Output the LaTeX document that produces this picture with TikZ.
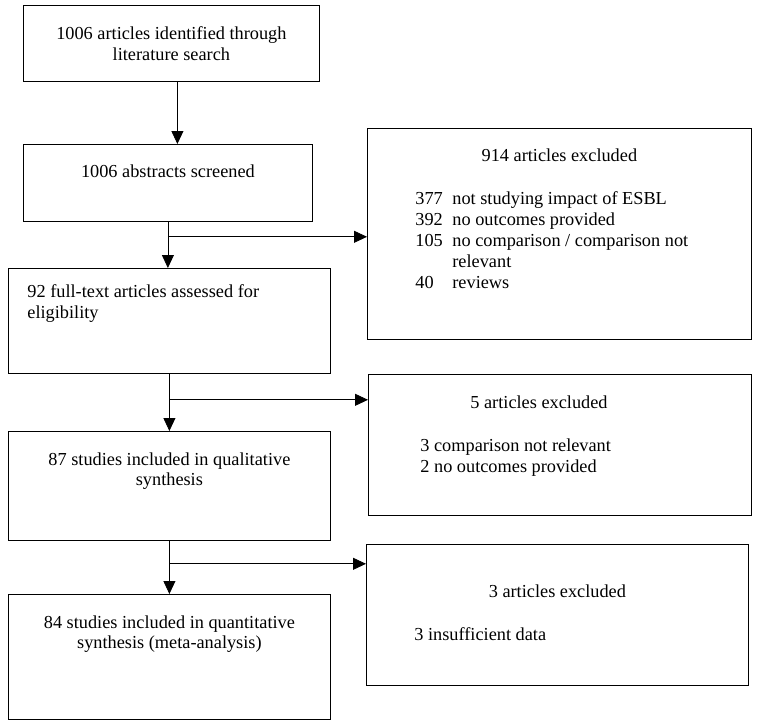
\documentclass[tikz,border=0pt]{standalone}
\usepackage{fontspec}
\setmainfont{Liberation Serif}
\usetikzlibrary{arrows.meta,calc}
\usepackage{xcolor}

% box text: width, height, top padding, content
\newcommand{\boxtext}[4]{\parbox[c][#2][t]{#1}{\vspace*{#3}#4}}

\tikzset{
  box/.style={draw, line width=0.8pt, inner sep=0pt, anchor=north west,
    font=\fontsize{18.3}{20.8}\selectfont},
  arr/.style={line width=0.8pt, -{Triangle[length=13pt,width=12pt]}}
}

\begin{document}
\begin{tikzpicture}[x=1pt,y=-1pt]
		\useasboundingbox (0,0) rectangle (760,725);
		\fill[white] (0,0) rectangle (760,725);

		\node (search)[box] at (23,5) {\parbox[c][76pt][c]{296pt}{\centering 1006 articles identified through\\ literature search}};
		\node (screened)[box] at (23,144) {\boxtext{289pt}{77pt}{20pt}{\centering 1006 abstracts screened}};
		\node (fulltext)[box] at (8,268) {\boxtext{322pt}{105pt}{16pt}{\raggedright\hspace*{19pt}92 full-text articles assessed for\\ \hspace*{19pt}eligibility}};
		\node (qualit)[box] at (8,431) {\boxtext{322pt}{109pt}{21pt}{\centering 87 studies included in qualitative\\ synthesis}};
		\node (quant)[box] at (8,594) {\boxtext{322pt}{125pt}{21pt}{\centering 84 studies included in quantitative\\ synthesis (meta-analysis)}};

		\node (excla)[box] at (367,128) {\boxtext{384pt}{211pt}{20pt}{\centering 914 articles excluded\par\vspace{23pt}
			\raggedright\hspace*{48pt}\begin{tabular}[t]{@{}p{37pt}@{}l@{}}
				377 & not studying impact of ESBL\\
				392 & no outcomes provided\\
				105 & no comparison / comparison not\\
				    & relevant\\
				40  & reviews
			\end{tabular}}};
		\node (exclb)[box] at (368,374) {\boxtext{383pt}{141pt}{21pt}{\raggedright\hspace*{102pt}5 articles excluded\par\vspace{23pt}
			\hspace*{52pt}\begin{tabular}[t]{@{}l@{}}
				3 comparison not relevant\\
				2 no outcomes provided
			\end{tabular}}};
		\node (exclc)[box] at (366,544) {\boxtext{382pt}{141pt}{40pt}{\centering 3 articles excluded\par\vspace{23pt}
			\raggedright\hspace*{48pt}3 insufficient data}};

		% main flow
		\draw[arr] ([xshift=6pt]search.south) -- ([xshift=6pt]search.south |- screened.north);
		\draw[arr] (screened.south) -- (screened.south |- fulltext.north);
		\draw[arr] (fulltext.south) -- (qualit.north);
		\draw[arr] (qualit.south) -- (quant.north);

		% exclusions
		\coordinate (ba) at ($(screened.south)+(0,15)$);
		\coordinate (bb) at ($(fulltext.south)+(0,26)$);
		\coordinate (bc) at ($(qualit.south)+(0,23)$);
		\draw[arr] (ba) -- (ba -| excla.west);
		\draw[arr] (bb) -- (bb -| exclb.west);
		\draw[arr] (bc) -- (bc -| exclc.west);
	\end{tikzpicture}
\end{document}
